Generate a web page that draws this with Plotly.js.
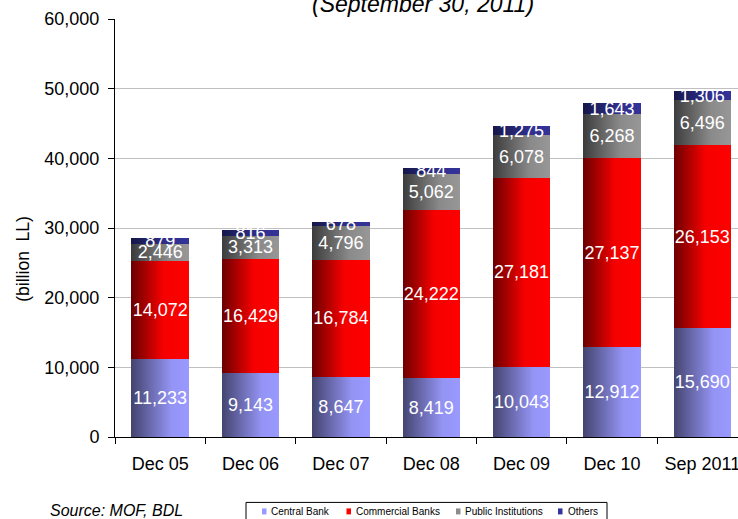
<!DOCTYPE html>
<html>
<head>
<meta charset="utf-8">
<script src="https://cdn.plot.ly/plotly-3.0.1.min.js"></script>
<style>
html,body{margin:0;padding:0;background:#fff;}
#chart{width:738px;height:519px;}
</style>
</head>
<body>
<div id="chart"></div>
<script>
const categories = ["Dec 05", "Dec 06", "Dec 07", "Dec 08", "Dec 09", "Dec 10", "Sep 2011"];
const centralBank = [11233, 9143, 8647, 8419, 10043, 12912, 15690];
const commercialBanks = [14072, 16429, 16784, 24222, 27181, 27137, 26153];
const publicInstitutions = [2446, 3313, 4796, 5062, 6078, 6268, 6496];
const others = [879, 816, 678, 844, 1275, 1643, 1306];
const seriesNames = ["Central Bank", "Commercial Banks", "Public Institutions", "Others"];
const yTickValues = [0, 10000, 20000, 30000, 40000, 50000, 60000];

const solidColors = ["#9999ff", "#ff0000", "#8c8c8c", "#333399"];
const gradients = [
  [["0", "#44446f"], ["0.7", "#9494f5"], ["1", "#9999ff"]],
  [["0", "#6a0000"], ["0.55", "#f50000"], ["1", "#ff0000"]],
  [["0", "#3c3c3c"], ["0.65", "#8a8a8a"], ["1", "#979797"]],
  [["0", "#17174a"], ["0.65", "#30308f"], ["1", "#333399"]]
];

const allSeries = [centralBank, commercialBanks, publicInstitutions, others];
const FONT = "Liberation Sans, Arial, Helvetica, sans-serif";

// plot-area geometry (pixels) used to place decorations in paper coordinates
const W = 738, H = 519, ML = 115, MT = 19, MB = 81.5;
const PW = W - ML, PH = H - MT - MB;
const px = v => (v - ML) / PW;
const py = v => (H - MB - v) / PH;

const traces = allSeries.map((vals, i) => ({
  type: "bar",
  name: seriesNames[i],
  x: categories,
  y: vals,
  marker: {color: solidColors[i], line: {width: 0}},
  texttemplate: "%{y:,.0f}",
  textposition: "inside",
  insidetextanchor: "middle",
  constraintext: "none",
  textangle: 0,
  textfont: {color: "#ffffff", size: 18, family: FONT},
  cliponaxis: false,
  hoverinfo: "skip",
  showlegend: false
}));

// legend (drawn as layout decorations)
const legendBox = {x0: 246, x1: 607, y0: 503, y1: 530};
const legendItems = [
  {sw: 262, tx: 270},
  {sw: 346.5, tx: 354.5},
  {sw: 456, tx: 463.5},
  {sw: 558, tx: 566.5}
];
const legendY = 512;

const shapes = [{
  type: "rect", xref: "paper", yref: "paper",
  x0: px(legendBox.x0), x1: px(legendBox.x1), y0: py(legendBox.y0), y1: py(legendBox.y1),
  line: {color: "#000000", width: 1}, fillcolor: "#ffffff", layer: "above"
}];
const annotations = [
  {
    text: "(September 30, 2011)",
    xref: "paper", yref: "paper", x: px(423), y: 1,
    xanchor: "center", yanchor: "bottom",
    showarrow: false,
    font: {size: 23, family: FONT, style: "italic", color: "#000000"}
  },
  {
    text: "(billion\u00a0 LL)",
    xref: "paper", yref: "paper", x: px(23), y: py(259),
    xanchor: "center", yanchor: "middle",
    textangle: -90,
    showarrow: false,
    font: {size: 17.5, family: FONT, color: "#000000"}
  },
  {
    text: "Source: MOF, BDL",
    xref: "paper", yref: "paper", x: px(48), y: py(511),
    xanchor: "left", yanchor: "middle",
    showarrow: false,
    font: {size: 16, family: FONT, style: "italic", color: "#000000"}
  }
];
legendItems.forEach((it, i) => {
  shapes.push({
    type: "rect", xref: "paper", yref: "paper",
    x0: px(it.sw), x1: px(it.sw + 4.5), y0: py(legendY + 3), y1: py(legendY - 3),
    line: {width: 0}, fillcolor: solidColors[i], layer: "above"
  });
  annotations.push({
    text: seriesNames[i],
    xref: "paper", yref: "paper", x: px(it.tx), y: py(legendY),
    xanchor: "left", yanchor: "middle",
    showarrow: false, borderpad: 0,
    font: {size: 10, family: FONT, color: "#000000"}
  });
});

const layout = {
  width: W,
  height: H,
  margin: {l: ML, r: 0, t: MT, b: MB, pad: 0, autoexpand: false},
  paper_bgcolor: "#ffffff",
  plot_bgcolor: "#ffffff",
  barmode: "stack",
  bargap: 0.365,
  font: {family: FONT, color: "#000000", size: 18},
  showlegend: false,
  xaxis: {
    type: "category",
    range: [-0.5, 6.395],
    showline: true, linecolor: "#000000", linewidth: 1,
    ticks: "outside", tickson: "boundaries", ticklen: 6, tickcolor: "#000000",
    showgrid: false,
    tickfont: {size: 18, family: FONT},
    ticklabelstandoff: 10,
    fixedrange: true
  },
  yaxis: {
    range: [0, 60000],
    tickvals: yTickValues,
    tickformat: ",",
    showline: true, linecolor: "#000000", linewidth: 1,
    ticks: "outside", ticklen: 6, tickcolor: "#000000",
    showgrid: true, gridcolor: "#c0c0c0", gridwidth: 1,
    zeroline: false,
    tickfont: {size: 18, family: FONT},
    ticklabelstandoff: 5,
    fixedrange: true
  },
  shapes: shapes,
  annotations: annotations
};

Plotly.newPlot("chart", traces, layout, {displayModeBar: false, staticPlot: true}).then(gd => {
  const svg = gd.querySelector("svg.main-svg");
  const NS = "http://www.w3.org/2000/svg";
  let defs = svg.querySelector("defs");
  if (!defs) { defs = document.createElementNS(NS, "defs"); svg.insertBefore(defs, svg.firstChild); }
  gradients.forEach((stops, i) => {
    const lg = document.createElementNS(NS, "linearGradient");
    lg.setAttribute("id", "barGrad" + i);
    lg.setAttribute("x1", "0"); lg.setAttribute("y1", "0");
    lg.setAttribute("x2", "1"); lg.setAttribute("y2", "0");
    stops.forEach(([off, col]) => {
      const s = document.createElementNS(NS, "stop");
      s.setAttribute("offset", off);
      s.setAttribute("stop-color", col);
      lg.appendChild(s);
    });
    defs.appendChild(lg);
  });
  const barTraces = gd.querySelectorAll(".barlayer .trace.bars");
  barTraces.forEach((g, i) => {
    g.querySelectorAll(".point path").forEach(p => { p.style.fill = "url(#barGrad" + i + ")"; });
  });
});
</script>
</body>
</html>
